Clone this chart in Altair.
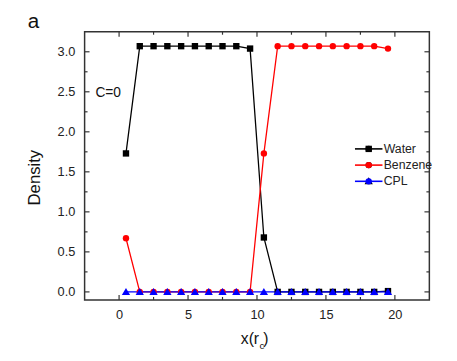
import altair as alt
import pandas as pd

# ---- data ----
x_pos = [0.5, 1.5, 2.5, 3.5, 4.5, 5.5, 6.5, 7.5, 8.5, 9.5,
         10.5, 11.5, 12.5, 13.5, 14.5, 15.5, 16.5, 17.5, 18.5, 19.5]
water = [1.73, 3.07, 3.07, 3.07, 3.07, 3.07, 3.07, 3.07, 3.07, 3.04,
         0.68, 0.0, 0.0, 0.0, 0.0, 0.0, 0.0, 0.0, 0.0, 0.01]
benzene = [0.67, 0.0, 0.0, 0.0, 0.0, 0.0, 0.0, 0.0, 0.0, 0.0,
           1.73, 3.07, 3.07, 3.07, 3.07, 3.07, 3.07, 3.07, 3.07, 3.04]
cpl = [0.0, 0.0, 0.0, 0.0, 0.0, 0.0, 0.0, 0.0, 0.0, 0.0,
       0.0, 0.0, 0.0, 0.0, 0.0, 0.0, 0.0, 0.0, 0.0, 0.0]

series_names = ["Water", "Benzene", "CPL"]
series_colors = ["#000000", "#ff0000", "#0000ff"]
series_shapes = ["square", "circle", "M0,-1.25L1.3,0.95L-1.3,0.95Z"]

x_major = [0, 5, 10, 15, 20]
x_minor = [2.5, 7.5, 12.5, 17.5]
y_major = [0.0, 0.5, 1.0, 1.5, 2.0, 2.5, 3.0]
y_minor = [0.25, 0.75, 1.25, 1.75, 2.25, 2.75]

W, H = 351, 273
FONT = "Liberation Sans"

rows = []
for name, vals in zip(series_names, [water, benzene, cpl]):
    for xv, yv in zip(x_pos, vals):
        rows.append({"x": xv, "y": yv, "series": name})
df = pd.DataFrame(rows)

xscale = alt.Scale(domain=[-2.5, 22.5], nice=False, zero=False)
yscale = alt.Scale(domain=[-0.1, 3.25], nice=False, zero=False)

x_enc = alt.X("x:Q", scale=xscale,
              axis=alt.Axis(values=x_major, ticks=False, domain=False, grid=False,
                            labelPadding=9, labelFontSize=13, labelFont=FONT,
                            labelColor="#222", title=None))
y_enc = alt.Y("y:Q", scale=yscale,
              axis=alt.Axis(values=y_major, ticks=False, domain=False, grid=False,
                            labelPadding=10, labelFontSize=13, labelFont=FONT,
                            labelColor="#222", format=".1f", title=None))

lines = alt.Chart(df).mark_line(strokeWidth=1.3).encode(
    x=x_enc, y=y_enc,
    color=alt.Color("series:N",
                    scale=alt.Scale(domain=series_names, range=series_colors),
                    legend=alt.Legend(orient="none", legendX=283, legendY=113,
                                      title=None, padding=0, rowPadding=3.5,
                                      symbolType="M-4,0H4", symbolSize=49,
                                      symbolStrokeWidth=1.6,
                                      labelOffset=9, labelFontSize=12.5,
                                      labelFont=FONT, labelColor="#222")),
)

pt_legend = alt.Legend(orient="none", legendX=283, legendY=113,
                       title=None, padding=0, rowPadding=3.5,
                       symbolSize=42, symbolStrokeWidth=0,
                       labelExpr="''", labelOpacity=0, labelFontSize=12.5,
                       labelFont=FONT)
points = alt.Chart(df).mark_point(filled=True, size=42, opacity=1).encode(
    x=x_enc, y=y_enc,
    color=alt.Color("series:N",
                    scale=alt.Scale(domain=series_names, range=series_colors),
                    legend=pt_legend),
    shape=alt.Shape("series:N",
                    scale=alt.Scale(domain=series_names, range=series_shapes),
                    legend=pt_legend),
)

TICK_C = "#333"
def xticks(vals, length):
    d = pd.DataFrame({"x": vals})
    b = alt.Chart(d).mark_rule(color=TICK_C, strokeWidth=1.2).encode(
        x=alt.X("x:Q", scale=xscale), y=alt.value(H), y2=alt.value(H - length))
    t = alt.Chart(d).mark_rule(color=TICK_C, strokeWidth=1.2).encode(
        x=alt.X("x:Q", scale=xscale), y=alt.value(0), y2=alt.value(length))
    return [b, t]

def yticks(vals, length):
    d = pd.DataFrame({"y": vals})
    l = alt.Chart(d).mark_rule(color=TICK_C, strokeWidth=1.2).encode(
        y=alt.Y("y:Q", scale=yscale), x=alt.value(0), x2=alt.value(length))
    r = alt.Chart(d).mark_rule(color=TICK_C, strokeWidth=1.2).encode(
        y=alt.Y("y:Q", scale=yscale), x=alt.value(W), x2=alt.value(W - length))
    return [l, r]

tick_layers = xticks(x_major, 5) + xticks(x_minor, 3) + yticks(y_major, 5) + yticks(y_minor, 3)

one = pd.DataFrame({"k": [0]})
def label(text, x, y, size, angle=0, align="left", baseline="alphabetic"):
    return alt.Chart(one).mark_text(text=text, fontSize=size, font=FONT, color="#111",
                                    align=align, baseline=baseline, angle=angle).encode(
        x=alt.value(x), y=alt.value(y))

texts = [
    label("a", -58, -4, 21),
    label("C=0", 11, 66, 14),
    label("Density", -45, 148.5, 17, angle=270, align="center"),
    label("x", 159, 318, 16),
    label("(r", 167, 318, 16),
    label("c", 178, 323, 10),
    label(")", 182, 318, 16),
]

chart = alt.layer(lines, points, *tick_layers, *texts).resolve_scale(
    color="independent"
).properties(
    width=W, height=H,
    autosize=alt.AutoSizeParams(type="none"),
    padding={"left": 78, "top": 21, "right": 20, "bottom": 59},
).configure_view(stroke="#333", strokeWidth=1.5)

chart.save("out.html", embed_options={"renderer": "svg", "actions": False})
